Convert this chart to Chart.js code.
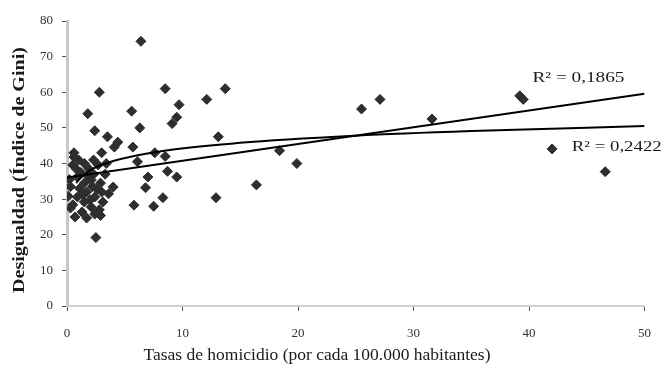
<!DOCTYPE html>
<html>
<head>
<meta charset="utf-8">
<script src="https://cdn.jsdelivr.net/npm/chart.js@4/dist/chart.umd.min.js"></script>
<style>
    body { margin: 0; background: #fff; }
    #wrap { width: 666px; height: 366px; }
</style>
</head>
<body>
<div id="wrap"><canvas id="homicidioGiniChart" width="666" height="366"></canvas></div>
<script>
// Homicide rate (per 100,000) and Gini index per country
const homicidios = [
    6.4, 2.8, 8.5, 13.7, 12.1, 9.7, 1.8, 5.6, 9.5, 9.1,
    6.3, 2.4, 3.5, 4.4, 4.1, 13.1, 5.7, 0.6, 3.0, 7.6,
    8.5, 6.1, 8.7, 9.5, 7.0, 6.8, 8.3, 7.5, 5.8, 12.9,
    18.4, 19.9, 16.4, 25.5, 27.1, 31.6, 39.2, 39.5, 42.0, 46.6,
    0.5, 1.5, 2.7, 3.4, 0.9, 1.5, 2.1, 2.9, 4.0, 0.1,
    0.9, 1.7, 2.4, 3.1, 1.5, 0.5, 2.1, 0.7, 2.4, 1.3,
    2.5, 1.2, 2.3, 1.9, 0.3, 2.6, 1.0, 2.8, 0.2, 1.1,
    1.8, 2.2, 3.3, 0.8, 1.4, 2.0, 3.6, 0.3, 1.7, 2.9,
    3.0, 0.6, 2.3
];
const gini = [
    74.3, 60.0, 61.0, 61.0, 58.0, 56.5, 54.0, 54.7, 53.0, 51.2,
    50.0, 49.2, 47.5, 46.0, 44.6, 47.5, 44.6, 43.0, 43.0, 43.0,
    42.0, 40.5, 37.8, 36.2, 36.2, 33.2, 30.4, 28.0, 28.3, 30.4,
    43.6, 40.0, 34.0, 55.3, 58.0, 52.5, 59.0, 58.0, 44.1, 37.7,
    39.6, 40.0, 39.6, 40.0, 36.2, 34.5, 35.4, 34.5, 33.4, 30.8,
    30.6, 32.0, 30.6, 29.2, 29.2, 28.4, 27.8, 25.0, 25.8, 26.4,
    19.2, 37.5, 37.0, 38.5, 33.5, 32.8, 41.0, 27.0, 35.5, 33.0,
    36.5, 33.5, 37.0, 38.5, 31.2, 29.8, 31.5, 27.5, 24.7, 25.4,
    32.0, 41.8, 41.0
];

// Trend lines
const linealX = [0, 50];
const linealY = [36.1, 59.6];
const logX = [0.8, 1, 2, 4, 8, 15, 25, 35, 50];
const logY = [34.5, 35.4, 38.1, 40.7, 43.4, 45.8, 47.8, 49.1, 50.5];

const r2Textos = ['R\u00B2 = 0,1865', 'R\u00B2 = 0,2422'];

const serif = '"Liberation Serif", "DejaVu Serif", serif';

// draws text stretched along its baseline to a given width
function textoAncho(ctx, texto, x, y, ancho) {
    const w = ctx.measureText(texto).width;
    ctx.save();
    ctx.translate(x, y);
    ctx.scale(ancho / w, 1);
    ctx.fillText(texto, 0, 0);
    ctx.restore();
}

// Axis titles and R² labels drawn on top of the chart
const textosExtra = {
    id: 'textosExtra',
    afterDraw(chart) {
        const ctx = chart.ctx;
        const xs = chart.scales.x;
        const ys = chart.scales.y;
        ctx.save();
        ctx.fillStyle = '#1a1a1a';

        // R² labels anchored in data space
        ctx.font = '15px ' + serif;
        ctx.textAlign = 'left';
        ctx.textBaseline = 'middle';
        textoAncho(ctx, r2Textos[0], xs.getPixelForValue(40.3), ys.getPixelForValue(64.0), 92);
        textoAncho(ctx, r2Textos[1], xs.getPixelForValue(43.7), ys.getPixelForValue(44.6), 90);

        // x title
        ctx.font = '16px ' + serif;
        ctx.textAlign = 'center';
        textoAncho(ctx, 'Tasas de homicidio (por cada 100.000 habitantes)', 317, 356, 347);

        // y title
        ctx.translate(20, 170);
        ctx.rotate(-Math.PI / 2);
        ctx.font = 'bold 17px ' + serif;
        textoAncho(ctx, 'Desigualdad (\u00CDndice de Gini)', 0, 0, 246);
        ctx.restore();
    }
};

document.addEventListener('DOMContentLoaded', function() {
    const ctx = document.getElementById('homicidioGiniChart').getContext('2d');
    new Chart(ctx, {
        type: 'scatter',
        data: {
            datasets: [
                {
                    label: 'Países',
                    data: homicidios.map((h, i) => ({ x: h, y: gini[i] })),
                    pointStyle: 'rectRot',
                    pointRadius: 5,
                    backgroundColor: '#2e2e2e',
                    borderColor: '#2e2e2e',
                    borderWidth: 1,
                    order: 2
                },
                {
                    label: 'Lineal',
                    type: 'line',
                    data: linealX.map((x, i) => ({ x: x, y: linealY[i] })),
                    borderColor: '#000',
                    borderWidth: 2,
                    pointRadius: 0,
                    fill: false,
                    order: 1
                },
                {
                    label: 'Logarítmica',
                    type: 'line',
                    data: logX.map((x, i) => ({ x: x, y: logY[i] })),
                    borderColor: '#000',
                    borderWidth: 2,
                    pointRadius: 0,
                    cubicInterpolationMode: 'monotone',
                    fill: false,
                    order: 1
                }
            ]
        },
        options: {
            responsive: false,
            animation: false,
            layout: {
                padding: { top: 21, right: 18, left: 0, bottom: 0 }
            },
            plugins: {
                legend: { display: false },
                tooltip: { enabled: false }
            },
            scales: {
                x: {
                    type: 'linear',
                    min: 0,
                    max: 50,
                    afterFit: function(scale) { scale.height = 60; },
                    border: { color: '#cfcfcf', width: 2 },
                    grid: {
                        drawOnChartArea: false,
                        drawTicks: true,
                        tickLength: 5,
                        color: '#555'
                    },
                    ticks: {
                        stepSize: 10,
                        padding: 15,
                        color: '#333',
                        font: { family: serif, size: 13 }
                    }
                },
                y: {
                    min: 0,
                    max: 80,
                    afterFit: function(scale) { scale.width = 67; },
                    border: { color: '#c8c8c8', width: 3 },
                    grid: {
                        drawOnChartArea: false,
                        drawTicks: true,
                        tickLength: 5,
                        color: '#555'
                    },
                    ticks: {
                        stepSize: 10,
                        padding: 9,
                        color: '#333',
                        font: { family: serif, size: 13 }
                    }
                }
            }
        },
        plugins: [textosExtra]
    });
});
</script>
</body>
</html>
